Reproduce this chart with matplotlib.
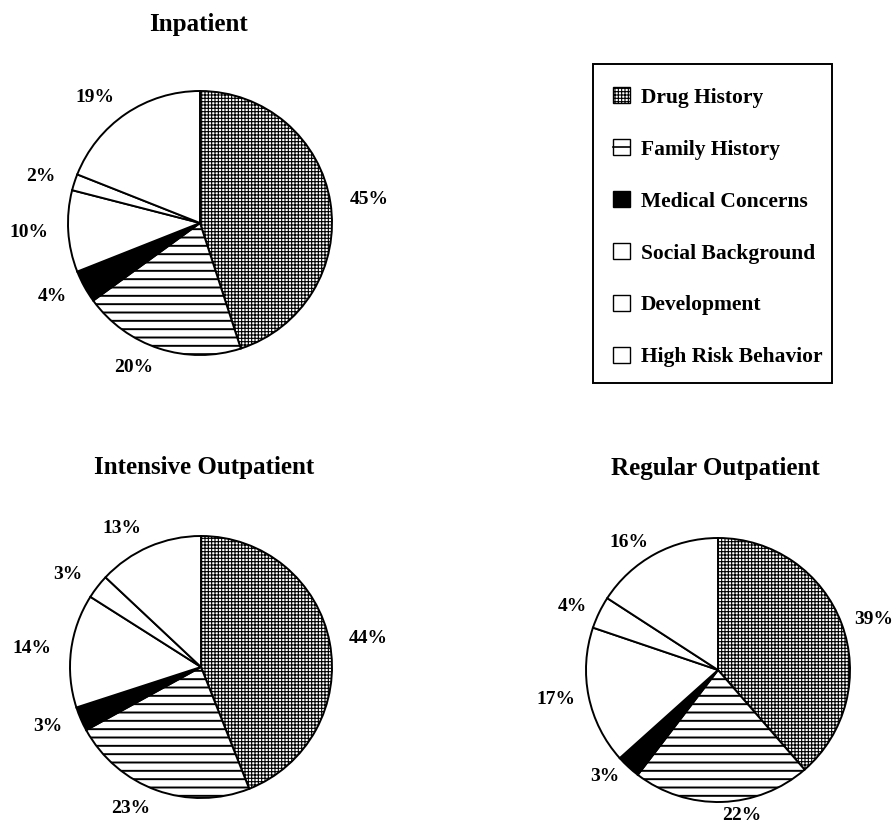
import matplotlib.pyplot as plt
from matplotlib.patches import Patch, Rectangle
from matplotlib.lines import Line2D

plt.rcParams['font.family'] = ['Liberation Serif', 'DejaVu Serif']
plt.rcParams['font.weight'] = 'bold'
plt.rcParams['hatch.linewidth'] = 0.8

W, H = 895, 822

categories = ["Drug History", "Family History", "Medical Concerns",
              "Social Background", "Development", "High Risk Behavior"]
inpatient = [45, 20, 4, 10, 2, 19]
intensive = [44, 23, 3, 14, 3, 13]
regular = [39, 22, 3, 17, 4, 16]

faces = ["white", "white", "black", "white", "white", "white"]
hatches = ["+++++", "--", None, None, None, None]

fig = plt.figure(figsize=(W / 100, H / 100), dpi=100)


def draw_pie(values, title, cx, cy, r, tx, ty, ldist=1.15):
    ax = fig.add_axes([(cx - r) / W, 1 - (cy + r) / H, 2 * r / W, 2 * r / H])
    wedges, texts = ax.pie(values, labels=[f"{v}%" for v in values],
                           startangle=90, counterclock=False,
                           colors=faces, labeldistance=ldist,
                           wedgeprops=dict(edgecolor="black", linewidth=1.4),
                           textprops=dict(fontsize=14, fontweight="bold"))
    for w, h in zip(wedges, hatches):
        if h:
            w.set_hatch(h)
            if h == "--" and hasattr(w, "set_hatch_linewidth"):
                w.set_hatch_linewidth(1.4)
    ax.set_xlim(-1, 1)
    ax.set_ylim(-1, 1)
    ax.set_aspect("equal")
    ax.axis("off")
    fig.text(tx / W, 1 - ty / H, title, ha="center", va="center",
             fontsize=18, fontweight="bold")


draw_pie(inpatient, "Inpatient", 200, 223, 132, 199, 24)
draw_pie(intensive, "Intensive Outpatient", 201, 667, 131, 204, 467)
draw_pie(regular, "Regular Outpatient", 718, 670, 132, 715, 468, ldist=1.1)

# legend: frame drawn separately so the padding can be uneven
fig.patches.append(Rectangle((593 / W, 1 - 383 / H), 239 / W, 319 / H,
                             transform=fig.transFigure, fill=False,
                             edgecolor="black", linewidth=1.4))
handles = [Patch(facecolor="white", edgecolor="black", hatch="+++++"),
           (Patch(facecolor="white", edgecolor="black"),
            Line2D([], [], color="black", lw=1.2)),
           Patch(facecolor="black", edgecolor="black"),
           Patch(facecolor="white", edgecolor="black"),
           Patch(facecolor="white", edgecolor="black"),
           Patch(facecolor="white", edgecolor="black")]
leg = fig.legend(handles, categories, loc="upper left",
                 bbox_to_anchor=(613 / W, 1 - 87 / H), frameon=False,
                 fontsize=15.5, labelspacing=1.45, handlelength=0.8,
                 handleheight=0.8, handletextpad=0.5, borderpad=0,
                 borderaxespad=0)

fig.savefig("out.png", dpi=100)
